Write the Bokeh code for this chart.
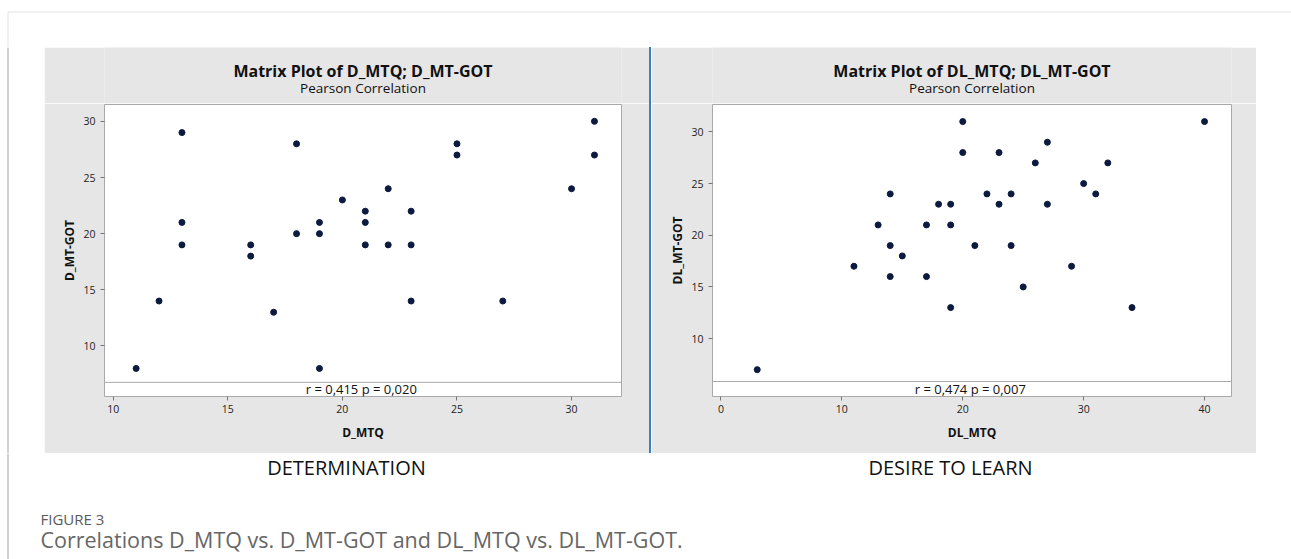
from bokeh.plotting import figure
from bokeh.layouts import row, column
from bokeh.models import FixedTicker, Span, Label, Spacer, Range1d, BoxAnnotation
from bokeh.embed import file_html
from bokeh.resources import INLINE

# ---------------- data ----------------
d_mtq = [11, 12, 13, 13, 13, 16, 16, 17, 18, 18, 19, 19, 19, 20, 21, 21, 21, 22, 22, 23, 23, 23, 25, 25, 27, 30, 31, 31]
d_mtgot = [8, 14, 29, 21, 19, 19, 18, 13, 28, 20, 21, 20, 8, 23, 22, 21, 19, 24, 19, 22, 19, 14, 28, 27, 14, 24, 30, 27]
dl_mtq = [3, 11, 13, 14, 14, 14, 15, 17, 17, 18, 19, 19, 19, 20, 20, 21, 22, 23, 23, 24, 24, 25, 26, 27, 27, 29, 30, 31, 32, 34, 40]
dl_mtgot = [7, 17, 21, 24, 19, 16, 18, 21, 16, 23, 23, 21, 13, 31, 28, 19, 24, 28, 23, 24, 19, 15, 27, 29, 23, 17, 25, 24, 27, 13, 31]

d_xticks = [10, 15, 20, 25, 30]
d_yticks = [10, 15, 20, 25, 30]
dl_xticks = [0, 10, 20, 30, 40]
dl_yticks = [10, 15, 20, 25, 30]

titles = ["Matrix Plot of D_MTQ; D_MT-GOT", "Matrix Plot of DL_MTQ; DL_MT-GOT"]
subtitle = "Pearson Correlation"
stats = ["r = 0,415  p = 0,020", "r = 0,474  p = 0,007"]
xlabels = ["D_MTQ", "DL_MTQ"]
ylabels = ["D_MT-GOT", "DL_MT-GOT"]
panel_names = ["DETERMINATION", "DESIRE TO LEARN"]
fig_label = "FIGURE 3"
caption = "Correlations D_MTQ vs. D_MT-GOT and DL_MTQ vs. DL_MT-GOT."

# ---------------- style ----------------
FONT = "Open Sans"
GRAY = "#e6e6e6"
FRAME = "#a9a9a9"
DOT = "#0b1a3e"
CARD = "#a3a3a3"
BLUE = "#3f7dbb"
PANEL_W = 605
W = 1291


def blank(w, h):
    p = figure(width=w, height=h, x_range=Range1d(0, w), y_range=Range1d(h, 0),
               toolbar_location=None, output_backend="svg", min_border=0,
               x_axis_location=None, y_axis_location=None)
    p.outline_line_color = None
    p.grid.visible = False
    return p


def header(title):
    p = blank(PANEL_W, 56)
    p.background_fill_color = GRAY
    p.border_fill_color = GRAY
    p.add_layout(Label(x=PANEL_W / 2, y=23, text=title, text_align="center",
                       text_baseline="middle", text_font=FONT, text_font_size="16px",
                       text_font_style="bold", text_color="#111111"))
    p.add_layout(Label(x=PANEL_W / 2, y=40, text=subtitle, text_align="center",
                       text_baseline="middle", text_font=FONT, text_font_size="13.5px",
                       text_color="#111111"))
    return p


def scatter_panel(x, y, xr, yr, strip_y, xticks, yticks, xlabel, ylabel, stat, ml, mr):
    p = figure(width=PANEL_W, height=350, x_range=Range1d(*xr), y_range=Range1d(*yr),
               toolbar_location=None, output_backend="svg",
               min_border_left=ml, min_border_right=mr, min_border_top=1, min_border_bottom=57)
    p.border_fill_color = GRAY
    p.background_fill_color = "white"
    p.outline_line_color = FRAME
    p.grid.visible = False
    p.scatter(x, y, size=6, fill_color=DOT, line_color=DOT)
    p.add_layout(Span(location=strip_y, dimension="width", line_color=FRAME, line_width=1))
    p.add_layout(Label(x=(xr[0] + xr[1]) / 2, y=(yr[0] + strip_y) / 2, text=stat,
                       text_align="center", text_baseline="middle", text_font=FONT,
                       text_font_size="13px", text_color="#111111"))
    for ax, ticks in ((p.xaxis, xticks), (p.yaxis, yticks)):
        ax.ticker = FixedTicker(ticks=ticks)
        ax.axis_line_color = None
        ax.major_tick_in = 0
        ax.major_tick_out = 4
        ax.major_tick_line_color = "#777777"
        ax.minor_tick_line_color = None
        ax.major_label_text_font = FONT
        ax.major_label_text_font_size = "10.5px"
        ax.major_label_text_color = "#222222"
        ax.axis_label_text_font = FONT
        ax.axis_label_text_font_size = "12px"
        ax.axis_label_text_font_style = "bold"
        ax.axis_label_text_color = "#111111"
    p.xaxis.axis_label = xlabel
    p.yaxis.axis_label = ylabel
    p.xaxis.major_label_standoff = 4
    p.xaxis.axis_label_standoff = 8
    p.yaxis.major_label_standoff = 5
    p.yaxis.axis_label_standoff = 2
    return p


left_sc = scatter_panel(d_mtq, d_mtgot, (9.62, 32.18), (5.5, 31.5), 6.76,
                        d_xticks, d_yticks, xlabels[0], ylabels[0], stats[0], 60, 28)
right_sc = scatter_panel(dl_mtq, dl_mtgot, (-0.70, 42.23), (4.4, 32.65), 5.85,
                         dl_xticks, dl_yticks, xlabels[1], ylabels[1], stats[1], 61, 25)

left_panel = column(header(titles[0]), left_sc, spacing=0)
right_panel = column(header(titles[1]), right_sc, spacing=0)

# card frame pieces
top = blank(W, 47)
top.add_layout(BoxAnnotation(left=7.5, right=W + 20, top=11.5, bottom=120,
                             fill_color=None, line_color=CARD, line_width=1))

lm = blank(44, 406)
lm.add_layout(Span(location=7.5, dimension="height", line_color=CARD, line_width=1))
rm = blank(W - 1256, 406)
divider = Spacer(width=2, height=406, styles={"background-color": BLUE})

mid = row(lm, left_panel, divider, right_panel, rm, spacing=0)

bot = blank(W, 106)
bot.add_layout(Span(location=7.5, dimension="height", line_color=CARD, line_width=1))
bot.add_layout(Label(x=346, y=14, text=panel_names[0], text_align="center", text_baseline="middle",
                     text_font=FONT, text_font_size="20px", text_color="#111111"))
bot.add_layout(Label(x=950, y=14, text=panel_names[1], text_align="center", text_baseline="middle",
                     text_font=FONT, text_font_size="20px", text_color="#111111"))
bot.add_layout(Label(x=40, y=65, text=fig_label, text_align="left", text_baseline="middle",
                     text_font=FONT, text_font_size="15px", text_color="#5a5a5a"))
bot.add_layout(Label(x=40, y=86, text=caption, text_align="left", text_baseline="middle",
                     text_font=FONT, text_font_size="21.5px", text_color="#666666"))

layout = column(top, mid, bot, spacing=0)

open("out.html", "w").write(file_html(layout, INLINE))
